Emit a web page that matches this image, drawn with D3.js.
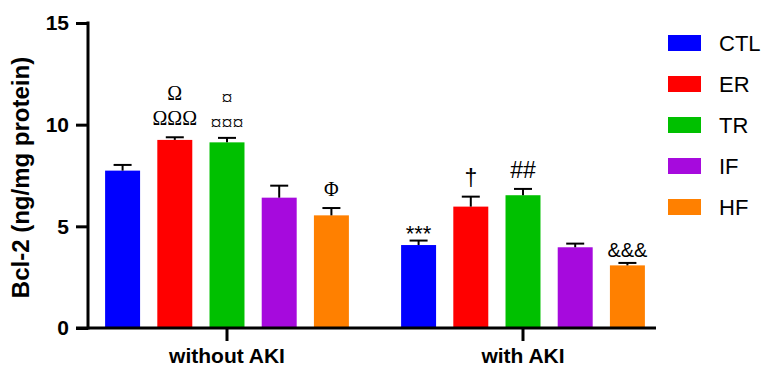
<!DOCTYPE html>
<html>
<head>
<meta charset="utf-8">
<script src="https://cdn.jsdelivr.net/npm/d3@7"></script>
<style>
  html, body { margin: 0; padding: 0; background: #fff; }
  svg { display: block; }
</style>
</head>
<body>
<svg id="chart" width="766" height="366"></svg>
<script>
// Bcl-2 levels by diet group, without and with acute kidney injury
const groups = ["without AKI", "with AKI"];
const series = ["CTL", "ER", "TR", "IF", "HF"];
const colors = ["#0000FF", "#FF0000", "#00C000", "#A60ADD", "#FF8000"];
const meanWithout = [7.74, 9.25, 9.13, 6.41, 5.54];
const meanWith    = [4.08, 5.97, 6.53, 3.97, 3.08];
const semWithout  = [0.28, 0.13, 0.22, 0.59, 0.36];
const semWith     = [0.22, 0.49, 0.31, 0.18, 0.12];
// significance marks, listed top line first
const marksWithout = [[], ["Ω", "ΩΩΩ"], ["¤", "¤¤¤"], [], ["Φ"]];
const marksWith    = [["***"], ["†"], ["##"], [], ["&&&"]];
const yTicks = [0, 5, 10, 15];
const yTitle = "Bcl-2 (ng/mg protein)";

const means = [meanWithout, meanWith];
const sems = [semWithout, semWith];
const marks = [marksWithout, marksWith];

const svg = d3.select("#chart");
const sans = "'Liberation Sans', Arial, sans-serif";
const serif = "'Liberation Serif', 'Times New Roman', serif";

const y = d3.scaleLinear().domain([0, 15]).range([328, 23]);
const x0 = d3.scaleBand().domain(groups).range([79, 671]);
const x1 = d3.scaleBand().domain(series).range([0, x0.bandwidth()])
  .paddingInner(0.33).paddingOuter(0.5);
const color = d3.scaleOrdinal().domain(series).range(colors);

const rows = [];
groups.forEach((g, gi) => {
  series.forEach((s, si) => {
    rows.push({ g, s, v: means[gi][si], e: sems[gi][si], m: marks[gi][si] });
  });
});

const bx = d => x0(d.g) + x1(d.s);
const bc = d => bx(d) + x1.bandwidth() / 2;

// bars
svg.append("g").selectAll("rect").data(rows).join("rect")
  .attr("x", bx)
  .attr("y", d => y(d.v))
  .attr("width", x1.bandwidth())
  .attr("height", d => y(0) - y(d.v))
  .attr("fill", d => color(d.s));

// error bars (upper only)
const eb = svg.append("g").attr("stroke", "#000").attr("stroke-width", 2);
eb.selectAll("line.v").data(rows).join("line").attr("class", "v")
  .attr("x1", bc).attr("x2", bc)
  .attr("y1", d => y(d.v)).attr("y2", d => y(d.v + d.e));
eb.selectAll("line.c").data(rows).join("line").attr("class", "c")
  .attr("x1", d => bc(d) - 9).attr("x2", d => bc(d) + 9)
  .attr("y1", d => y(d.v + d.e)).attr("y2", d => y(d.v + d.e));

// significance marks: typeface and size depend on the symbol
function markStyle(t) {
  if (t.includes("¤")) return { font: serif, size: 22, gap: 8 };
  if (/[ΩΦ]/.test(t)) return { font: serif, size: 20, gap: 12 };
  if (t.includes("*")) return { font: sans, size: 22, gap: 0 };
  if (t.includes("&")) return { font: sans, size: 20, gap: 6 };
  return { font: sans, size: 23, gap: 11 };
}
const mk = svg.append("g").attr("text-anchor", "middle").attr("fill", "#000");
rows.forEach(d => {
  const n = d.m.length;
  d.m.forEach((t, i) => {
    const st = markStyle(t);
    mk.append("text")
      .attr("x", bc(d))
      .attr("y", y(d.v + d.e) - st.gap - (n - 1 - i) * 25)
      .attr("font-family", st.font)
      .attr("font-size", st.size)
      .text(t);
  });
});

// y axis
const yAxis = svg.append("g").attr("transform", "translate(88,0)")
  .call(d3.axisLeft(y).tickValues(yTicks).tickSize(12).tickPadding(7));
yAxis.select(".domain").attr("stroke", "#000").attr("stroke-width", 3)
  .attr("d", `M0,${y(15) - 1.5}V${y(0) + 1.5}`);
yAxis.selectAll(".tick line").attr("stroke", "#000").attr("stroke-width", 3);
yAxis.selectAll(".tick text")
  .attr("font-family", sans).attr("font-weight", "bold")
  .attr("font-size", 21).attr("fill", "#000");

// x axis
const xAxis = svg.append("g").attr("transform", `translate(0,${y(0)})`)
  .call(d3.axisBottom(x0).tickSize(13).tickPadding(7));
xAxis.select(".domain").attr("stroke", "#000").attr("stroke-width", 3)
  .attr("d", "M76,0H656");
xAxis.selectAll(".tick line").attr("stroke", "#000").attr("stroke-width", 3);
xAxis.selectAll(".tick text")
  .attr("font-family", sans).attr("font-weight", "bold")
  .attr("font-size", 21).attr("fill", "#000");

// y title
svg.append("text")
  .attr("transform", `translate(29,${(y(0) + y(15)) / 2 + 2}) rotate(-90)`)
  .attr("text-anchor", "middle")
  .attr("font-family", sans).attr("font-weight", "bold")
  .attr("font-size", 24).attr("fill", "#000")
  .text(yTitle);

// legend
const legend = svg.append("g").attr("transform", "translate(668,35)");
const li = legend.selectAll("g").data(series).join("g")
  .attr("transform", (d, i) => `translate(0,${i * 41})`);
li.append("rect").attr("width", 33).attr("height", 16)
  .attr("fill", d => color(d));
li.append("text").attr("x", 51).attr("y", 15.5)
  .attr("font-family", sans).attr("font-size", 22).attr("fill", "#000")
  .text(d => d);
</script>
</body>
</html>
